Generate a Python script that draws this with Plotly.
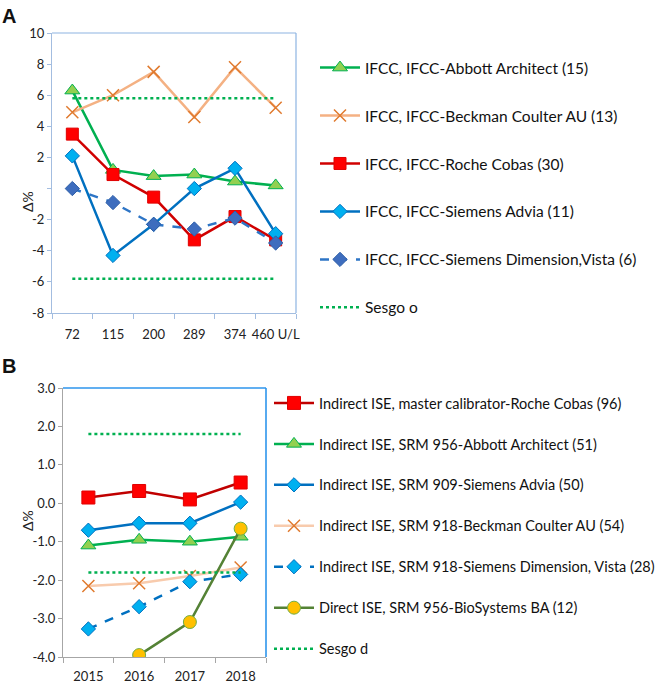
import plotly.graph_objects as go

# ---------------- Panel A data ----------------
A_categories = ["72", "115", "200", "289", "374", "460 U/L"]
A_abbott = [6.3, 1.2, 0.8, 0.9, 0.45, 0.2]
A_beckman = [4.9, 6.0, 7.5, 4.6, 7.8, 5.2]
A_roche = [3.5, 0.9, -0.55, -3.3, -1.8, -3.3]
A_advia = [2.1, -4.3, -2.3, 0.0, 1.3, -2.9]
A_dimension = [0.0, -0.9, -2.3, -2.6, -1.9, -3.5]
A_sesgo_upper = [5.8] * 6
A_sesgo_lower = [-5.8] * 6
A_ytick_vals = [-8, -6, -4, -2, 0, 2, 4, 6, 8, 10]
A_ytick_labels = ["-8", "-6", "-4", "-2", "", "2", "4", "6", "8", "10"]

# ---------------- Panel B data ----------------
B_categories = ["2015", "2016", "2017", "2018"]
B_roche = [0.15, 0.32, 0.10, 0.54]
B_abbott = [-1.1, -0.95, -1.0, -0.87]
B_advia = [-0.70, -0.52, -0.52, 0.03]
B_beckman = [-2.15, -2.08, -1.89, -1.67]
B_dimension = [-3.27, -2.69, -2.04, -1.85]
B_biosystems = [None, -3.95, -3.09, -0.66]
B_sesgo_upper = [1.8] * 4
B_sesgo_lower = [-1.8] * 4
B_ytick_vals = [-4, -3, -2, -1, 0, 1, 2, 3]
B_ytick_labels = ["-4.0", "-3.0", "-2.0", "-1.0", "0.0", "1.0", "2.0", "3.0"]

FONT = "Lato"
W, H = 663, 684

def px_x(p):
    return p / W

def px_y(p):
    return 1 - p / H

fig = go.Figure()

# Panel A traces
fig.add_trace(go.Scatter(x=A_categories, y=A_abbott, mode="lines+markers",
    name="IFCC, IFCC-Abbott Architect (15)", legend="legend", legendgroup="a1",
    line=dict(color="#00B050", width=2.5),
    marker=dict(symbol="triangle-up", size=13, color="#92D050", line=dict(color="#00B050", width=1)),
    xaxis="x", yaxis="y"))
fig.add_trace(go.Scatter(x=A_categories, y=A_beckman, mode="lines+markers",
    name="IFCC, IFCC-Beckman Coulter AU (13)", legend="legend", legendgroup="a2",
    line=dict(color="#F4B183", width=2.5),
    marker=dict(symbol="x-thin", size=12, color="#E07A2E", line=dict(color="#E07A2E", width=1.5)),
    xaxis="x", yaxis="y"))
fig.add_trace(go.Scatter(x=A_categories, y=A_roche, mode="lines+markers",
    name="IFCC, IFCC-Roche Cobas (30)", legend="legend", legendgroup="a3",
    line=dict(color="#D00000", width=2.5),
    marker=dict(symbol="square", size=12, color="#FF0000", line=dict(color="#E00000", width=1)),
    xaxis="x", yaxis="y"))
fig.add_trace(go.Scatter(x=A_categories, y=A_advia, mode="lines+markers",
    name="IFCC, IFCC-Siemens Advia (11)", legend="legend", legendgroup="a4",
    line=dict(color="#0070C0", width=2.5),
    marker=dict(symbol="diamond", size=11, color="#00B0F0", line=dict(color="#0070C0", width=1)),
    xaxis="x", yaxis="y"))
fig.add_trace(go.Scatter(x=A_categories, y=A_dimension, mode="lines+markers",
    name="IFCC, IFCC-Siemens Dimension,Vista (6)", legend="legend", legendgroup="a5",
    line=dict(color="#2E75C6", width=2.5, dash="dash"),
    marker=dict(symbol="diamond", size=11, color="#3E6DBE", line=dict(color="#2E5FA8", width=1)),
    xaxis="x", yaxis="y"))
fig.add_trace(go.Scatter(x=A_categories, y=A_sesgo_upper, mode="lines",
    name="Sesgo o", legend="legend", legendgroup="a6",
    line=dict(color="#00B050", width=2.5, dash="dot"),
    xaxis="x", yaxis="y"))
fig.add_trace(go.Scatter(x=A_categories, y=A_sesgo_lower, mode="lines",
    name="Sesgo o", legend="legend", legendgroup="a6", showlegend=False,
    line=dict(color="#00B050", width=2.5, dash="dot"),
    xaxis="x", yaxis="y"))

# Panel B traces
fig.add_trace(go.Scatter(x=B_categories, y=B_roche, mode="lines+markers",
    name="Indirect ISE, master calibrator-Roche Cobas (96)", legend="legend2", legendgroup="b1",
    line=dict(color="#C00000", width=2.5),
    marker=dict(symbol="square", size=13, color="#FF0000", line=dict(color="#E00000", width=1)),
    xaxis="x2", yaxis="y2"))
fig.add_trace(go.Scatter(x=B_categories, y=B_abbott, mode="lines+markers",
    name="Indirect ISE, SRM 956-Abbott Architect (51)", legend="legend2", legendgroup="b2",
    line=dict(color="#00B050", width=2.5),
    marker=dict(symbol="triangle-up", size=13, color="#92D050", line=dict(color="#00B050", width=1)),
    xaxis="x2", yaxis="y2"))
fig.add_trace(go.Scatter(x=B_categories, y=B_advia, mode="lines+markers",
    name="Indirect ISE, SRM 909-Siemens Advia (50)", legend="legend2", legendgroup="b3",
    line=dict(color="#0070C0", width=2.5),
    marker=dict(symbol="diamond", size=11, color="#00B0F0", line=dict(color="#0070C0", width=1)),
    xaxis="x2", yaxis="y2"))
fig.add_trace(go.Scatter(x=B_categories, y=B_beckman, mode="lines+markers",
    name="Indirect ISE, SRM 918-Beckman Coulter AU (54)", legend="legend2", legendgroup="b4",
    line=dict(color="#F8CBAD", width=2.5),
    marker=dict(symbol="x-thin", size=12, color="#E07A2E", line=dict(color="#E07A2E", width=1.5)),
    xaxis="x2", yaxis="y2"))
fig.add_trace(go.Scatter(x=B_categories, y=B_dimension, mode="lines+markers",
    name="Indirect ISE, SRM 918-Siemens Dimension, Vista (28)", legend="legend2", legendgroup="b5",
    line=dict(color="#0070C0", width=2.5, dash="dash"),
    marker=dict(symbol="diamond", size=11, color="#00B0F0", line=dict(color="#0070C0", width=1)),
    xaxis="x2", yaxis="y2"))
fig.add_trace(go.Scatter(x=B_categories, y=B_biosystems, mode="lines+markers",
    name="Direct ISE, SRM 956-BioSystems BA (12)", legend="legend2", legendgroup="b6",
    line=dict(color="#548235", width=2.5),
    marker=dict(symbol="circle", size=13, color="#FFC000", line=dict(color="#70AD47", width=1)),
    xaxis="x2", yaxis="y2"))
fig.add_trace(go.Scatter(x=B_categories, y=B_sesgo_upper, mode="lines",
    name="Sesgo d", legend="legend2", legendgroup="b7",
    line=dict(color="#00B050", width=2.5, dash="dot"),
    xaxis="x2", yaxis="y2"))
fig.add_trace(go.Scatter(x=B_categories, y=B_sesgo_lower, mode="lines",
    name="Sesgo d", legend="legend2", legendgroup="b7", showlegend=False,
    line=dict(color="#00B050", width=2.5, dash="dot"),
    xaxis="x2", yaxis="y2"))

tickfont = dict(family=FONT, size=13, color="#222222")

fig.update_layout(
    width=W, height=H,
    margin=dict(l=0, r=0, t=0, b=0, autoexpand=False),
    paper_bgcolor="white", plot_bgcolor="white",
    font=dict(family=FONT, size=12, color="#222222"),
    showlegend=True,
    xaxis=dict(domain=[px_x(52), px_x(296)], anchor="y", type="category",
               categoryorder="array", categoryarray=A_categories, automargin=False,
               range=[-0.5, 5.5], tickson="boundaries", ticks="outside", ticklen=5,
               tickangle=0,
               tickcolor="#A3BDE0", showline=True, linecolor="#A3BDE0", linewidth=1,
               showgrid=False, zeroline=False, tickfont=tickfont, ticklabelstandoff=9),
    yaxis=dict(domain=[px_y(313), px_y(33)], anchor="x", range=[-8, 10], automargin=False,
               tickvals=A_ytick_vals, ticktext=A_ytick_labels,
               ticks="outside", ticklen=4, tickcolor="#A3BDE0",
               showline=True, linecolor="#A3BDE0", linewidth=1,
               showgrid=False, zeroline=False, tickfont=tickfont),
    xaxis2=dict(domain=[px_x(63), px_x(266)], anchor="y2", type="category",
                categoryorder="array", categoryarray=B_categories, automargin=False,
                range=[-0.5, 3.5], tickson="boundaries", ticks="outside", ticklen=5,
                tickangle=0,
                tickcolor="#A6A6A6", showline=True, linecolor="#A6A6A6", linewidth=1,
                showgrid=False, zeroline=False, tickfont=tickfont, ticklabelstandoff=7),
    yaxis2=dict(domain=[px_y(657), px_y(388)], anchor="x2", range=[-4, 3], automargin=False,
                tickvals=B_ytick_vals, ticktext=B_ytick_labels,
                ticks="outside", ticklen=4, tickcolor="#A6A6A6",
                showline=True, linecolor="#A6A6A6", linewidth=1,
                showgrid=False, zeroline=False, tickfont=tickfont),
    legend=dict(x=px_x(315), y=px_y(51), xanchor="left", yanchor="top",
                font=dict(family=FONT, size=15.5, color="#111111"),
                tracegroupgap=24.8, bgcolor="rgba(0,0,0,0)",
                itemwidth=40, traceorder="grouped"),
    legend2=dict(x=px_x(269), y=px_y(387), xanchor="left", yanchor="top",
                 font=dict(family=FONT, size=14.5, color="#111111"),
                 tracegroupgap=19.1, bgcolor="rgba(0,0,0,0)",
                 itemwidth=40, traceorder="grouped"),
)

# Plot frames (top & right borders)
for xr, yr, col, w in [("x domain", "y domain", "#8DB4E2", 1.2), ("x2 domain", "y2 domain", "#2D95EC", 1.6)]:
    fig.add_shape(type="line", xref=xr, yref=yr, x0=0, x1=1, y0=1, y1=1, line=dict(color=col, width=w))
    fig.add_shape(type="line", xref=xr, yref=yr, x0=1, x1=1, y0=0, y1=1, line=dict(color=col, width=w))

# Panel letters and axis titles
fig.add_annotation(text="<b>A</b>", x=0, y=px_y(3), xref="paper", yref="paper",
                   xanchor="left", yanchor="top", showarrow=False,
                   font=dict(family="Liberation Sans", size=20, color="#111111"))
fig.add_annotation(text="<b>B</b>", x=0, y=px_y(353), xref="paper", yref="paper",
                   xanchor="left", yanchor="top", showarrow=False,
                   font=dict(family="Liberation Sans", size=20, color="#111111"))
fig.add_annotation(text="Δ%", x=px_x(17), y=px_y(189), xref="paper", yref="paper",
                   textangle=-90, showarrow=False, font=dict(family=FONT, size=14, color="#222222"))
fig.add_annotation(text="Δ%", x=px_x(17), y=px_y(533), xref="paper", yref="paper",
                   textangle=-90, showarrow=False, font=dict(family=FONT, size=14, color="#222222"))

fig.write_html("out.html", config={"displayModeBar": False},
               post_script="document.body.style.margin='0';")
